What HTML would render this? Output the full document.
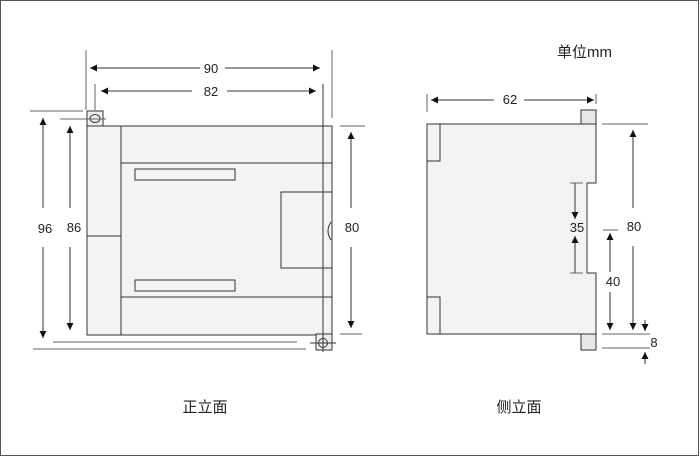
<!DOCTYPE html>
<html><head><meta charset="utf-8"><style>
html,body{margin:0;padding:0;background:#fff;}
svg{display:block;}
text{font-family:"Liberation Sans","Noto Sans CJK SC",sans-serif;fill:#222;}
</style></head><body>
<svg width="700" height="457" viewBox="0 0 700 457" xmlns="http://www.w3.org/2000/svg">
<defs>
<marker id="a" viewBox="0 0 10 10" refX="10" refY="5" markerWidth="9" markerHeight="7" orient="auto-start-reverse" markerUnits="userSpaceOnUse"><path d="M0,0L10,5L0,10z" fill="#111"/></marker>
</defs>
<rect x="0.5" y="0.5" width="698" height="455" fill="#fff" stroke="#555"/>
<g stroke="#333" stroke-width="1" fill="none">
<!-- front view -->
<rect x="87" y="126" width="245" height="209" fill="#f2f3f4"/>
<line x1="121" y1="126" x2="121" y2="335"/>
<line x1="121" y1="163" x2="332" y2="163"/>
<line x1="121" y1="297" x2="332" y2="297"/>
<line x1="87" y1="236" x2="121" y2="236"/>
<rect x="135" y="169" width="100" height="11"/>
<rect x="135" y="280" width="100" height="11"/>
<rect x="281" y="192" width="51" height="76"/>
<path d="M331,222 Q325,231 331,240"/>
<rect x="87" y="111" width="16" height="15" fill="#eee"/>
<ellipse cx="95" cy="118.5" rx="5" ry="4"/>
<rect x="316" y="334" width="16" height="16" fill="#eee"/>
<circle cx="323" cy="343" r="4.5"/>
<!-- dims front -->
<line x1="86" y1="50" x2="86" y2="110" stroke="#666"/>
<line x1="332" y1="50" x2="332" y2="118" stroke="#666"/>
<line x1="95" y1="84" x2="95" y2="110" stroke="#666"/>
<line x1="323" y1="84" x2="323" y2="352" stroke="#333"/>
<line x1="30" y1="111" x2="83" y2="111" stroke="#666"/>
<line x1="60" y1="119" x2="106" y2="119" stroke="#666"/>
<line x1="53" y1="342" x2="297" y2="342" stroke="#666"/>
<line x1="33" y1="349" x2="306" y2="349" stroke="#666"/>
<line x1="310" y1="343" x2="336" y2="343"/>
<line x1="340" y1="126" x2="365" y2="126" stroke="#666"/>
<line x1="340" y1="334" x2="362" y2="334" stroke="#666"/>
<line x1="200" y1="68" x2="90" y2="68" marker-end="url(#a)"/>
<line x1="225" y1="68" x2="320" y2="68" marker-end="url(#a)"/>
<line x1="192" y1="91" x2="101" y2="91" marker-end="url(#a)"/>
<line x1="227" y1="91" x2="316" y2="91" marker-end="url(#a)"/>
<line x1="43" y1="208" x2="43" y2="118" marker-end="url(#a)"/>
<line x1="43" y1="247" x2="43" y2="338" marker-end="url(#a)"/>
<line x1="70" y1="208" x2="70" y2="126" marker-end="url(#a)"/>
<line x1="70" y1="247" x2="70" y2="330" marker-end="url(#a)"/>
<line x1="351" y1="208" x2="351" y2="132" marker-end="url(#a)"/>
<line x1="351" y1="247" x2="351" y2="328" marker-end="url(#a)"/>
<!-- side view -->
<path d="M427,124 H596 V183 H587 V273 H596 V334 H427 Z" fill="#f2f3f4"/>
<rect x="427" y="124" width="13" height="37"/>
<rect x="427" y="297" width="13" height="37"/>
<rect x="581" y="110" width="15" height="14" fill="#e6e7e8"/>
<rect x="581" y="334" width="15" height="16" fill="#e6e7e8"/>
<line x1="427" y1="94" x2="427" y2="112" stroke="#666"/>
<line x1="596" y1="94" x2="596" y2="104" stroke="#666"/>
<line x1="494" y1="100" x2="431" y2="100" marker-end="url(#a)"/>
<line x1="524" y1="100" x2="594" y2="100" marker-end="url(#a)"/>
<line x1="570" y1="183" x2="583" y2="183" stroke="#666"/>
<line x1="570" y1="273" x2="583" y2="273" stroke="#666"/>
<line x1="575" y1="183" x2="575" y2="219" marker-end="url(#a)"/>
<line x1="575" y1="273" x2="575" y2="236" marker-end="url(#a)"/>
<line x1="602" y1="124" x2="648" y2="124" stroke="#666"/>
<line x1="603" y1="230" x2="618" y2="230" stroke="#666"/>
<line x1="633" y1="208" x2="633" y2="130" marker-end="url(#a)"/>
<line x1="633" y1="246" x2="633" y2="330" marker-end="url(#a)"/>
<line x1="610" y1="272" x2="610" y2="233" marker-end="url(#a)"/>
<line x1="610" y1="292" x2="610" y2="330" marker-end="url(#a)"/>
<line x1="602" y1="334" x2="650" y2="334" stroke="#666"/>
<line x1="602" y1="348" x2="650" y2="348" stroke="#666"/>
<line x1="645" y1="320" x2="645" y2="331" marker-end="url(#a)"/>
<line x1="645" y1="364" x2="645" y2="352" marker-end="url(#a)"/>
</g>
<g font-size="13">
<text x="211" y="73" text-anchor="middle">90</text>
<text x="211" y="96" text-anchor="middle">82</text>
<text x="45" y="233" text-anchor="middle">96</text>
<text x="74" y="232" text-anchor="middle">86</text>
<text x="352" y="232" text-anchor="middle">80</text>
<text x="510" y="104" text-anchor="middle">62</text>
<text x="577" y="232" text-anchor="middle">35</text>
<text x="634" y="231" text-anchor="middle">80</text>
<text x="613" y="286" text-anchor="middle">40</text>
<text x="654" y="347" text-anchor="middle">8</text>
</g>
<text x="557" y="57" font-size="15">单位mm</text>
<text x="205" y="412" font-size="15" text-anchor="middle">正立面</text>
<text x="519" y="412" font-size="15" text-anchor="middle">侧立面</text>
</svg>
</body></html>
